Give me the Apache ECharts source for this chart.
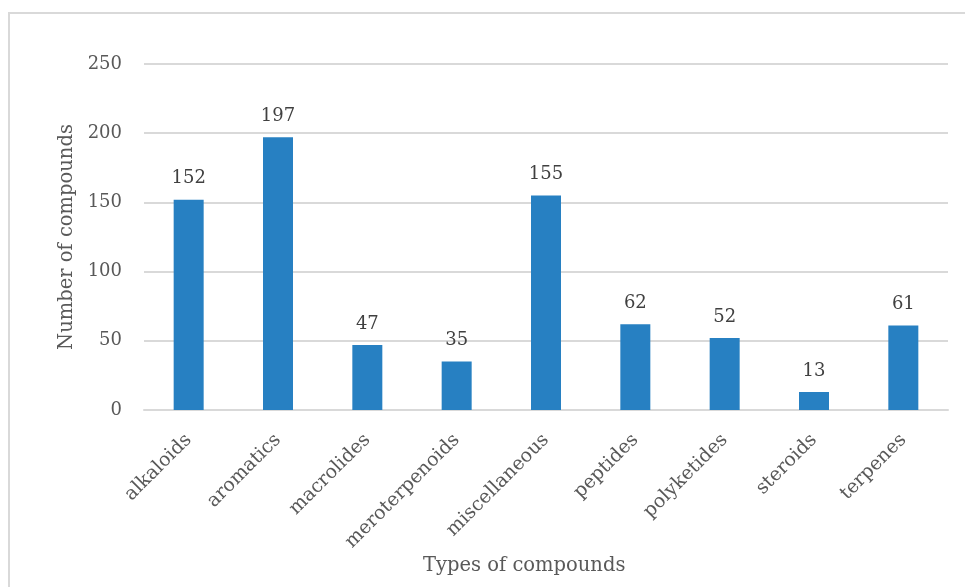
<!DOCTYPE html>
<html>
<head>
<meta charset="utf-8">
<script src="https://cdn.jsdelivr.net/npm/echarts@6/dist/echarts.min.js"></script>
<style>
  html, body { margin: 0; padding: 0; background: #fff; }
  #main { width: 965px; height: 587px; }
</style>
</head>
<body>
<div id="main"></div>
<script>
const categories = ["alkaloids", "aromatics", "macrolides", "meroterpenoids", "miscellaneous", "peptides", "polyketides", "steroids", "terpenes"];
const counts = [152, 197, 47, 35, 155, 62, 52, 13, 61];
const yTicks = { min: 0, max: 250, interval: 50 };

const fontFamily = "DejaVu Serif";
const gray = "#595959";
const gridColor = "#d9d9d9";

var myChart = echarts.init(document.querySelector("#main"));

const options = {
  animation: false,
  textStyle: { fontFamily: fontFamily },
  graphic: [
    {
      type: "rect",
      shape: { x: 9, y: 13, width: 980, height: 620 },
      style: { fill: "none", stroke: gridColor, lineWidth: 2 },
      silent: true
    },
    {
      type: "text",
      left: 423,
      top: 556,
      style: {
        text: "Types of compounds",
        fill: gray,
        font: "19.5px " + fontFamily
      }
    }
  ],
  grid: { left: 144, right: 17, top: 64, bottom: 177 },
  xAxis: {
    type: "category",
    data: categories,
    axisLine: { lineStyle: { color: gridColor, width: 2 } },
    axisTick: { show: false },
    axisLabel: {
      rotate: 45,
      interval: 0,
      margin: 27,
      color: gray,
      fontSize: 19,
      fontFamily: fontFamily
    }
  },
  yAxis: {
    type: "value",
    min: yTicks.min,
    max: yTicks.max,
    interval: yTicks.interval,
    name: "Number of compounds",
    nameLocation: "middle",
    nameGap: 64,
    nameTextStyle: { color: gray, fontSize: 19.5, fontFamily: fontFamily },
    axisLine: { show: false },
    axisTick: { show: false },
    axisLabel: { color: gray, fontSize: 18, margin: 22, fontFamily: fontFamily },
    splitLine: { lineStyle: { color: gridColor, width: 2 } }
  },
  series: [
    {
      type: "bar",
      data: counts,
      barWidth: 30,
      itemStyle: { color: "#2780c2" },
      label: {
        show: true,
        position: "top",
        distance: 12,
        color: "#404040",
        fontSize: 18,
        fontFamily: fontFamily
      }
    }
  ]
};

myChart.setOption(options);
window.onresize = function() {
  myChart.resize();
};
</script>
</body>
</html>
